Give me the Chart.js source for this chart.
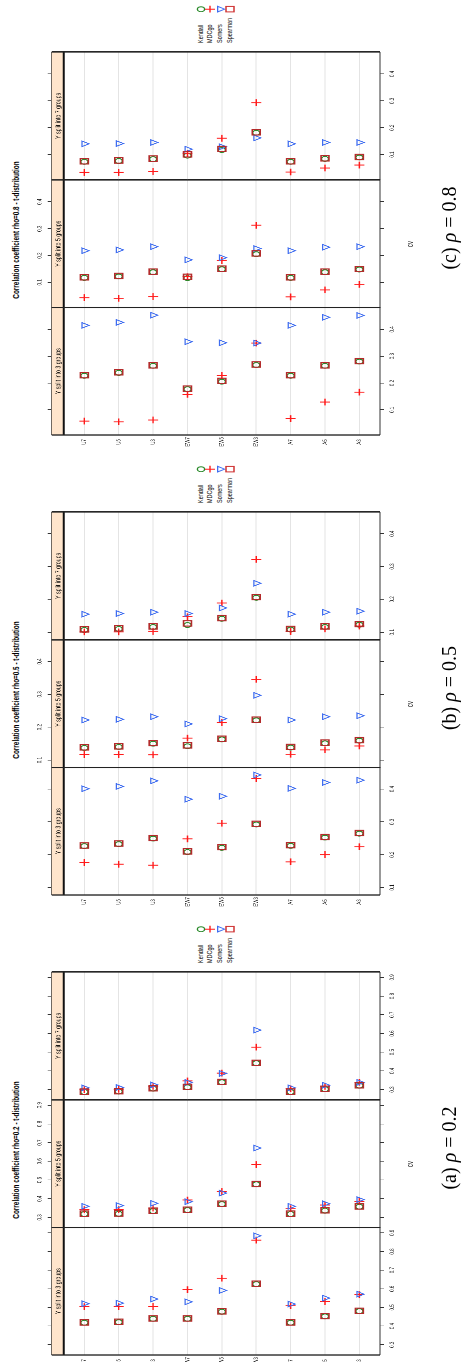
<!DOCTYPE html>
<html>
<head>
<meta charset="utf-8">
<script src="https://cdn.jsdelivr.net/npm/chart.js@4.4.1/dist/chart.umd.min.js"></script>
<style>
  html, body { margin: 0; padding: 0; background: #fff; overflow: hidden; }
  body { width: 461px; height: 1362px; position: relative; font-family: "Liberation Sans", Arial, sans-serif; }
  .block { position: absolute; left: 0; top: 0; height: 461px; transform-origin: 0 0; }
  .panel { position: absolute; top: 0; height: 461px; }
  .title { position: absolute; top: 11px; font-weight: bold; font-size: 9.4px; line-height: 10px; white-space: nowrap; transform: translateX(-50%); }
  .xlab { position: absolute; top: 404.5px; font-size: 8.5px; line-height: 10px; white-space: nowrap; transform: translateX(-50%); }
  .key { position: absolute; font-size: 8px; line-height: 10px; white-space: nowrap; }
  .keysym { position: absolute; }
  .caption { position: absolute; font-family: "Liberation Serif", "DejaVu Serif", serif; font-size: 20px; white-space: nowrap; transform: translate(-50%, -50%) rotate(-90deg); }
</style>
</head>
<body>
<script>
// categories and panels
const categories = ['U7', 'U5', 'U3', 'EW7', 'EW5', 'EW3', 'A7', 'A5', 'A3'];
const panelTitles = ['Y split into 3 groups', 'Y split into 5 groups', 'Y split into 7 groups'];
const methods = ['Kendall', 'MDCgo', 'Somers', 'Spearman'];

// tick labels of the value axis
const ticks02 = [0.3, 0.4, 0.5, 0.6, 0.7, 0.8, 0.9];
const ticks05 = [0.1, 0.2, 0.3, 0.4];
const ticks08 = [0.1, 0.2, 0.3, 0.4];

// rho = 0.2
const rho2_g3_kendall  = [0.418, 0.421, 0.439, 0.439, 0.477, 0.625, 0.418, 0.452, 0.480];
const rho2_g3_mdcgo    = [0.504, 0.504, 0.505, 0.595, 0.657, 0.861, 0.509, 0.532, 0.568];
const rho2_g3_somers   = [0.520, 0.523, 0.545, 0.530, 0.591, 0.884, 0.518, 0.550, 0.571];
const rho2_g3_spearman = [0.420, 0.423, 0.441, 0.441, 0.479, 0.627, 0.420, 0.454, 0.482];
const rho2_g5_kendall  = [0.318, 0.319, 0.334, 0.339, 0.371, 0.477, 0.318, 0.336, 0.357];
const rho2_g5_mdcgo    = [0.341, 0.341, 0.350, 0.393, 0.438, 0.582, 0.346, 0.366, 0.386];
const rho2_g5_somers   = [0.359, 0.363, 0.375, 0.384, 0.430, 0.671, 0.359, 0.373, 0.395];
const rho2_g5_spearman = [0.320, 0.321, 0.336, 0.341, 0.373, 0.479, 0.320, 0.338, 0.359];
const rho2_g7_kendall  = [0.287, 0.289, 0.305, 0.312, 0.339, 0.441, 0.287, 0.302, 0.321];
const rho2_g7_mdcgo    = [0.300, 0.302, 0.318, 0.346, 0.388, 0.527, 0.304, 0.318, 0.339];
const rho2_g7_somers   = [0.309, 0.311, 0.325, 0.338, 0.386, 0.618, 0.309, 0.323, 0.338];
const rho2_g7_spearman = [0.289, 0.291, 0.307, 0.314, 0.341, 0.443, 0.289, 0.304, 0.323];

// rho = 0.5
const rho5_g3_kendall  = [0.226, 0.232, 0.249, 0.208, 0.221, 0.292, 0.227, 0.252, 0.264];
const rho5_g3_mdcgo    = [0.176, 0.171, 0.168, 0.248, 0.296, 0.432, 0.178, 0.200, 0.224];
const rho5_g3_somers   = [0.401, 0.408, 0.425, 0.369, 0.378, 0.443, 0.402, 0.420, 0.427];
const rho5_g3_spearman = [0.228, 0.234, 0.251, 0.210, 0.223, 0.294, 0.229, 0.254, 0.266];
const rho5_g5_kendall  = [0.137, 0.140, 0.150, 0.142, 0.163, 0.221, 0.138, 0.151, 0.159];
const rho5_g5_mdcgo    = [0.117, 0.117, 0.116, 0.167, 0.214, 0.346, 0.118, 0.131, 0.143];
const rho5_g5_somers   = [0.222, 0.224, 0.232, 0.210, 0.226, 0.297, 0.222, 0.232, 0.235];
const rho5_g5_spearman = [0.139, 0.142, 0.152, 0.145, 0.165, 0.223, 0.140, 0.153, 0.161];
const rho5_g7_kendall  = [0.107, 0.110, 0.116, 0.122, 0.141, 0.205, 0.108, 0.116, 0.123];
const rho5_g7_mdcgo    = [0.101, 0.101, 0.103, 0.147, 0.189, 0.322, 0.103, 0.110, 0.119];
const rho5_g7_somers   = [0.155, 0.157, 0.161, 0.157, 0.174, 0.249, 0.155, 0.161, 0.164];
const rho5_g7_spearman = [0.109, 0.112, 0.118, 0.127, 0.143, 0.207, 0.110, 0.118, 0.125];

// rho = 0.8
const rho8_g3_kendall  = [0.227, 0.238, 0.264, 0.177, 0.205, 0.267, 0.227, 0.264, 0.280];
const rho8_g3_mdcgo    = [0.058, 0.055, 0.062, 0.158, 0.228, 0.349, 0.067, 0.129, 0.166];
const rho8_g3_somers   = [0.415, 0.426, 0.453, 0.354, 0.350, 0.349, 0.415, 0.445, 0.452];
const rho8_g3_spearman = [0.229, 0.240, 0.266, 0.179, 0.208, 0.269, 0.229, 0.266, 0.282];
const rho8_g5_kendall  = [0.117, 0.122, 0.138, 0.116, 0.149, 0.205, 0.117, 0.138, 0.148];
const rho8_g5_mdcgo    = [0.043, 0.041, 0.047, 0.121, 0.182, 0.313, 0.046, 0.072, 0.093];
const rho8_g5_somers   = [0.218, 0.221, 0.233, 0.184, 0.192, 0.226, 0.218, 0.231, 0.233];
const rho8_g5_spearman = [0.119, 0.124, 0.140, 0.121, 0.151, 0.208, 0.119, 0.140, 0.150];
const rho8_g7_kendall  = [0.073, 0.076, 0.083, 0.096, 0.117, 0.181, 0.073, 0.084, 0.089];
const rho8_g7_mdcgo    = [0.034, 0.034, 0.037, 0.105, 0.161, 0.293, 0.035, 0.050, 0.061];
const rho8_g7_somers   = [0.140, 0.141, 0.145, 0.120, 0.129, 0.162, 0.140, 0.145, 0.145];
const rho8_g7_spearman = [0.075, 0.078, 0.085, 0.101, 0.121, 0.183, 0.075, 0.086, 0.091];

// layout (the original figure is squashed horizontally, then turned on its side)
const S = 0.68;
const BLOCK = 460;
const H = 461;
const PANEL_C = [25, 152.6, 280.2];
const PANEL_WC = 127.6;
const AXIS_TOP = 51.7, AXIS_BOTTOM = 380;
const Y_MIN = 0.05, Y_MAX = 9.6, STRIP_EDGE = 0.4;
const PAD = 12;
const FONT = '"Liberation Sans", Arial, sans-serif';

const markers = [
  { style: 'circle',   r: 3.6, color: '#2a8a2a', bw: 1.4, rot: 0,   order: 4 },
  { style: 'cross',    r: 5,   color: '#ff1a1a', bw: 1.4, rot: 0,   order: 3 },
  { style: 'triangle', r: 4.7, color: '#3f6df0', bw: 1.3, rot: 180, order: 2 },
  { style: 'rect',     r: 5.6, color: '#b32b2b', bw: 1.6, rot: 0,   order: 1 }
];

const blocks = [
  { top: 0, rho: '0.8', tag: '(c)', min: 0.006, max: 0.482, ticks: ticks08,
    panels: [[rho8_g3_kendall, rho8_g3_mdcgo, rho8_g3_somers, rho8_g3_spearman],
             [rho8_g5_kendall, rho8_g5_mdcgo, rho8_g5_somers, rho8_g5_spearman],
             [rho8_g7_kendall, rho8_g7_mdcgo, rho8_g7_somers, rho8_g7_spearman]] },
  { top: 460, rho: '0.5', tag: '(b)', min: 0.077, max: 0.466, ticks: ticks05,
    panels: [[rho5_g3_kendall, rho5_g3_mdcgo, rho5_g3_somers, rho5_g3_spearman],
             [rho5_g5_kendall, rho5_g5_mdcgo, rho5_g5_somers, rho5_g5_spearman],
             [rho5_g7_kendall, rho5_g7_mdcgo, rho5_g7_somers, rho5_g7_spearman]] },
  { top: 920, rho: '0.2', tag: '(a)', min: 0.245, max: 0.929, ticks: ticks02,
    panels: [[rho2_g3_kendall, rho2_g3_mdcgo, rho2_g3_somers, rho2_g3_spearman],
             [rho2_g5_kendall, rho2_g5_mdcgo, rho2_g5_somers, rho2_g5_spearman],
             [rho2_g7_kendall, rho2_g7_mdcgo, rho2_g7_somers, rho2_g7_spearman]] }
];

// strip and panel frame
const panelFrame = {
  id: 'panelFrame',
  beforeDatasetsDraw(chart, args, opts) {
    const { ctx, chartArea: a } = chart;
    const yb = chart.scales.y.getPixelForValue(STRIP_EDGE);
    ctx.save();
    ctx.fillStyle = '#ffe5cc';
    ctx.fillRect(a.left, a.top, a.right - a.left, yb - a.top);
    ctx.fillStyle = '#000';
    ctx.font = '7.7px ' + FONT;
    ctx.textAlign = 'center';
    ctx.textBaseline = 'middle';
    ctx.fillText(opts.label, (a.left + a.right) / 2, (a.top + yb) / 2 + 0.5);
    ctx.strokeStyle = '#111';
    ctx.lineWidth = 2;
    ctx.beginPath();
    ctx.moveTo(a.left, yb);
    ctx.lineTo(a.right, yb);
    ctx.stroke();
    ctx.restore();
  },
  afterDraw(chart) {
    const { ctx, chartArea: a } = chart;
    ctx.save();
    ctx.strokeStyle = '#222';
    ctx.lineWidth = 1.8;
    ctx.beginPath();
    ctx.moveTo(a.left, a.top); ctx.lineTo(a.left, a.bottom);
    ctx.moveTo(a.right, a.top); ctx.lineTo(a.right, a.bottom);
    ctx.stroke();
    ctx.restore();
  }
};

function valueAxis(b, pos, showLabels, h) {
  return {
    type: 'linear', position: pos, min: b.min, max: b.max,
    afterFit: sc => { sc.height = h; },
    afterBuildTicks: sc => { sc.ticks = b.ticks.map(v => ({ value: v })); },
    ticks: { display: showLabels, padding: 4, color: '#111', autoSkip: false, maxRotation: 0, minRotation: 0,
             font: { size: 6.6, family: FONT }, callback: v => v.toFixed(1) },
    grid: { drawOnChartArea: false, drawTicks: true, tickLength: 4, tickColor: '#333', tickWidth: 1 },
    border: { display: true, color: '#333', width: 1 }
  };
}

function makePanel(block, b, p) {
  const left = p === 0 ? 0 : PANEL_C[p] / S - PAD;
  const width = p === 0 ? (PANEL_C[0] + PANEL_WC) / S + PAD : PANEL_WC / S + 2 * PAD;
  const wrap = document.createElement('div');
  wrap.className = 'panel';
  wrap.style.left = left + 'px';
  wrap.style.width = width + 'px';
  const cv = document.createElement('canvas');
  wrap.appendChild(cv);
  block.appendChild(wrap);

  const datasets = methods.map((name, k) => ({
    label: name,
    data: b.panels[p][k].map((v, i) => ({ x: v, y: i + 1 })),
    pointStyle: markers[k].style,
    pointRadius: markers[k].r,
    pointHoverRadius: markers[k].r,
    pointRotation: markers[k].rot,
    pointBorderColor: markers[k].color,
    pointBackgroundColor: 'rgba(0,0,0,0)',
    pointBorderWidth: markers[k].bw,
    order: markers[k].order,
    showLine: false
  }));

  new Chart(cv, {
    type: 'scatter',
    data: { datasets },
    options: {
      responsive: true, maintainAspectRatio: false, animation: false, devicePixelRatio: 2, events: [],
      layout: { padding: { left: p === 0 ? 0 : PAD, right: PAD, top: 0, bottom: 0 } },
      scales: {
        x: valueAxis(b, 'bottom', p !== 1, H - AXIS_BOTTOM),
        x2: valueAxis(b, 'top', p === 1, AXIS_TOP),
        y: {
          type: 'linear', position: 'left', reverse: true, min: Y_MIN, max: Y_MAX,
          afterFit: sc => { sc.width = p === 0 ? PANEL_C[0] / S : 0; },
          afterBuildTicks: sc => { sc.ticks = categories.map((c, i) => ({ value: i + 1 })); },
          ticks: { display: p === 0, padding: 3.2, crossAlign: 'center', color: '#111', autoSkip: false,
                   font: { size: 6.5, family: FONT }, callback: v => categories[Math.round(v) - 1] },
          grid: { drawTicks: false, color: '#e4e4e4', lineWidth: 1 },
          border: { display: false }
        }
      },
      plugins: { legend: { display: false }, tooltip: { enabled: false }, panelFrame: { label: panelTitles[p] } }
    },
    plugins: [panelFrame]
  });
}

function keySymbol(k) {
  const c = markers[k].color;
  if (k === 0) return `<circle cx="7" cy="7" r="3.6" fill="none" stroke="${c}" stroke-width="1.4"/>`;
  if (k === 1) return `<path d="M2 7H12M7 2V12" stroke="${c}" stroke-width="1.4"/>`;
  if (k === 2) return `<path d="M7 11.7L2.9 4.65H11.1Z" fill="none" stroke="${c}" stroke-width="1.3"/>`;
  return `<rect x="3" y="3" width="8" height="8" fill="none" stroke="#d03535" stroke-width="1.5"/>`;
}

blocks.forEach(b => {
  const block = document.createElement('div');
  block.className = 'block';
  block.style.width = (BLOCK / S) + 'px';
  block.style.transform = `translate(0px, ${b.top + BLOCK}px) rotate(-90deg) scale(${S}, 1)`;
  document.body.appendChild(block);

  const title = document.createElement('div');
  title.className = 'title';
  title.style.left = (230 / S) + 'px';
  title.textContent = 'Correlation coefficient rho=' + b.rho + ' - t-distribution';
  block.appendChild(title);

  for (let p = 0; p < 3; p++) makePanel(block, b, p);

  const xl = document.createElement('div');
  xl.className = 'xlab';
  xl.style.left = (216 / S) + 'px';
  xl.textContent = 'cv';
  block.appendChild(xl);

  methods.forEach((name, k) => {
    const rowY = 200.5 + 9.7 * k;
    const t = document.createElement('div');
    t.className = 'key';
    t.style.left = (417 / S) + 'px';
    t.style.top = (rowY - 5) + 'px';
    t.textContent = name;
    block.appendChild(t);
    const sym = document.createElement('div');
    sym.className = 'keysym';
    sym.style.left = (451 / S - 7) + 'px';
    sym.style.top = (rowY - 7) + 'px';
    sym.innerHTML = `<svg width="14" height="14" viewBox="0 0 14 14">${keySymbol(k)}</svg>`;
    block.appendChild(sym);
  });

  const cap = document.createElement('div');
  cap.className = 'caption';
  cap.style.left = '449px';
  cap.style.top = (b.top + 228) + 'px';
  cap.innerHTML = b.tag + ' <i>\u03C1</i> = ' + b.rho;
  document.body.appendChild(cap);
});
</script>
</body>
</html>
